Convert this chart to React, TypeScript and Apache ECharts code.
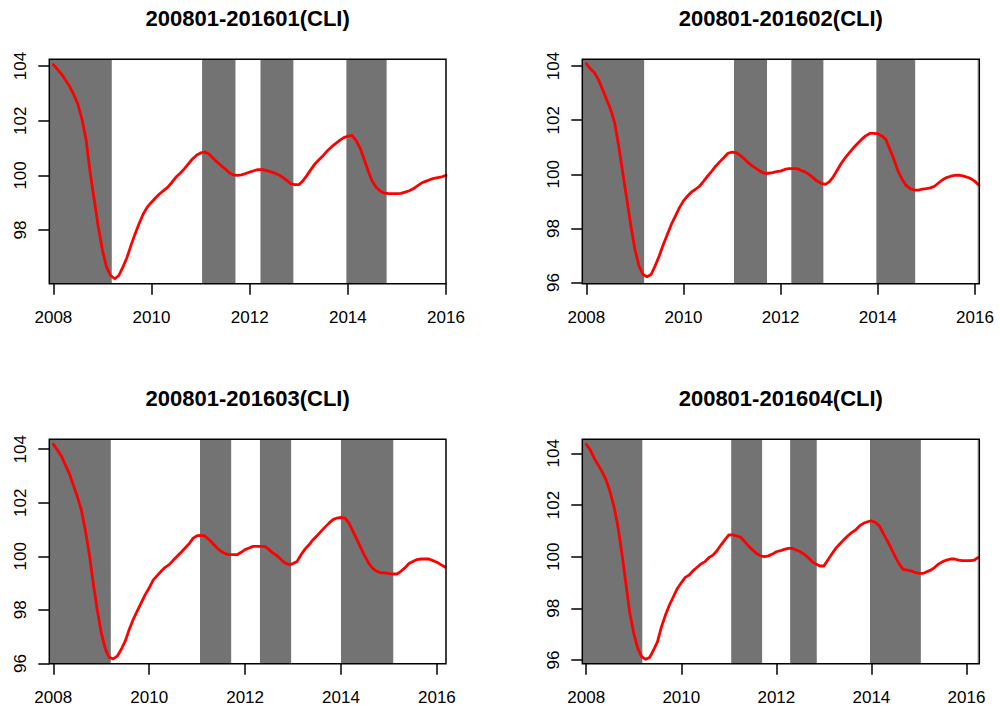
import { useEffect, useRef } from "react";
import * as echarts from "echarts";

// Monthly CLI readings, each run starting January 2008.
const START_YEAR = 2008;

const titles = [
  "200801-201601(CLI)",
  "200801-201602(CLI)",
  "200801-201603(CLI)",
  "200801-201604(CLI)",
];

const cli201601 = [
  104.05, 103.88, 103.7, 103.48, 103.25, 102.95, 102.6, 102.05, 101.3, 100.1, 99.1, 98.1,
  97.26, 96.65, 96.34, 96.22, 96.34, 96.65, 97.0, 97.45, 97.87, 98.25, 98.6, 98.85,
  99.02, 99.18, 99.33, 99.45, 99.57, 99.75, 99.94, 100.08, 100.24, 100.42, 100.6, 100.74,
  100.82, 100.85, 100.79, 100.64, 100.49, 100.36, 100.24, 100.1, 100.02, 100.0, 100.02, 100.07,
  100.12, 100.17, 100.21, 100.21, 100.18, 100.14, 100.09, 100.02, 99.94, 99.83, 99.7, 99.66,
  99.66, 99.8, 100.0, 100.22, 100.43, 100.58, 100.73, 100.9, 101.04, 101.16, 101.28, 101.38,
  101.43, 101.46, 101.28, 101.0, 100.58, 100.15, 99.78, 99.55, 99.42, 99.35, 99.33, 99.33,
  99.33, 99.34, 99.39, 99.44, 99.51, 99.62, 99.72, 99.78, 99.84, 99.89, 99.92, 99.95,
  100.0,
];

const cli201602 = [
  104.09, 103.9, 103.75, 103.5, 103.14, 102.77, 102.4, 101.9, 101.05, 100.06, 99.08, 98.1,
  97.23, 96.62, 96.3, 96.22, 96.3, 96.62, 96.98, 97.4, 97.78, 98.15, 98.46, 98.77,
  99.02, 99.2, 99.35, 99.45, 99.57, 99.75, 99.94, 100.12, 100.31, 100.47, 100.62, 100.78,
  100.82, 100.8, 100.7, 100.58, 100.43, 100.31, 100.21, 100.11, 100.04, 100.04, 100.06, 100.1,
  100.12, 100.18, 100.21, 100.21, 100.21, 100.15, 100.09, 100.0, 99.88, 99.75, 99.67, 99.63,
  99.72, 99.91, 100.16, 100.41, 100.62, 100.8, 100.98, 101.14, 101.29, 101.42, 101.51, 101.51,
  101.5, 101.42, 101.29, 100.92, 100.55, 100.12, 99.82, 99.59, 99.47, 99.42, 99.42, 99.45,
  99.47, 99.5, 99.56, 99.68, 99.8, 99.88, 99.93, 99.96, 99.97, 99.94, 99.9, 99.84,
  99.74, 99.6,
];

const cli201603 = [
  104.19, 103.98, 103.75, 103.42, 103.1, 102.67, 102.24, 101.74, 100.99, 100.1, 99.0, 98.0,
  97.15, 96.55, 96.22, 96.17, 96.27, 96.52, 96.83, 97.27, 97.64, 97.95, 98.26, 98.57,
  98.82, 99.11, 99.28, 99.44, 99.59, 99.69, 99.85, 100.0, 100.15, 100.31, 100.47, 100.68,
  100.77, 100.78, 100.75, 100.62, 100.47, 100.31, 100.19, 100.1, 100.06, 100.06, 100.06, 100.15,
  100.25, 100.31, 100.37, 100.37, 100.37, 100.37, 100.25, 100.12, 100.02, 99.88, 99.75, 99.69,
  99.73, 99.81, 100.06, 100.27, 100.43, 100.62, 100.77, 100.93, 101.09, 101.24, 101.37, 101.43,
  101.45, 101.43, 101.24, 100.93, 100.62, 100.31, 100.0, 99.73, 99.54, 99.44, 99.38, 99.38,
  99.35, 99.34, 99.34, 99.44, 99.57, 99.73, 99.81, 99.88, 99.9, 99.9, 99.9, 99.84,
  99.78, 99.69, 99.6,
];

const cli201604 = [
  104.35, 104.13, 103.81, 103.55, 103.29, 102.97, 102.52, 101.94, 101.16, 100.13, 98.97, 97.81,
  97.03, 96.45, 96.13, 96.03, 96.1, 96.39, 96.71, 97.29, 97.74, 98.13, 98.45, 98.77,
  98.99, 99.2, 99.29, 99.46, 99.59, 99.72, 99.81, 99.97, 100.06, 100.23, 100.45, 100.65,
  100.84, 100.84, 100.8, 100.75, 100.58, 100.41, 100.26, 100.13, 100.03, 100.0, 100.03, 100.1,
  100.19, 100.23, 100.28, 100.32, 100.32, 100.26, 100.19, 100.1, 99.97, 99.81, 99.72, 99.64,
  99.64, 99.87, 100.1, 100.32, 100.49, 100.65, 100.8, 100.93, 101.03, 101.19, 101.29, 101.35,
  101.39, 101.32, 101.19, 100.9, 100.62, 100.32, 100.0, 99.72, 99.51, 99.48, 99.45, 99.39,
  99.35, 99.35, 99.42, 99.48, 99.59, 99.72, 99.81, 99.87, 99.91, 99.91, 99.87, 99.85,
  99.85, 99.85, 99.87, 99.97,
];

// Contraction phases (decimal years) shaded dark grey.
const phases201601 = [[2007.917, 2009.19], [2011.03, 2011.71], [2012.22, 2012.89], [2013.97, 2014.79]];
const phases201602 = [[2007.917, 2009.19], [2011.04, 2011.72], [2012.22, 2012.88], [2013.97, 2014.77]];
const phases201603 = [[2007.917, 2009.2], [2011.06, 2011.71], [2012.31, 2012.96], [2014.0, 2015.09]];
const phases201604 = [[2007.917, 2009.18], [2011.05, 2011.7], [2012.29, 2012.85], [2013.97, 2015.04]];

// Thin light band at the last month of some runs.
const edge201601: number[][] = [];
const edge201602 = [[2016.045, 2016.09]];
const edge201603: number[][] = [];
const edge201604 = [[2016.225, 2016.27]];

const xMin = 2007.917;
const xMaxes = [2016.0, 2016.09, 2016.19, 2016.27];
const yRanges = [
  [96.04, 104.245],
  [95.96, 104.25],
  [95.99, 104.37],
  [95.86, 104.54],
];

const xTickValues = [2008, 2010, 2012, 2014, 2016];
const yTickValues201601 = [98, 100, 102, 104];
const yTickValues = [96, 98, 100, 102, 104];

const seriesValues = [cli201601, cli201602, cli201603, cli201604];
const phaseSets = [phases201601, phases201602, phases201603, phases201604];
const edgeSets = [edge201601, edge201602, edge201603, edge201604];
const yTickSets = [yTickValues201601, yTickValues, yTickValues, yTickValues];

// Plot boxes in pixels.
const boxes = [
  { left: 49.3, top: 59.3, width: 396.7, height: 224.4 },
  { left: 582.3, top: 59.3, width: 397, height: 224.4 },
  { left: 49.3, top: 439.3, width: 396.7, height: 224.4 },
  { left: 582.3, top: 439.3, width: 397, height: 224.4 },
];

const FONT = '"Liberation Sans", Arial, Helvetica, sans-serif';
const SHADE = "#737373";

function buildOption() {
  const grid = boxes.map((b) => ({ ...b, show: false, containLabel: false }));

  const xAxis = boxes.map((_, i) => ({
    type: "value",
    gridIndex: i,
    min: xMin,
    max: xMaxes[i],
    axisLine: { show: false },
    splitLine: { show: false },
    axisTick: {
      show: true,
      length: 11,
      customValues: xTickValues,
      lineStyle: { color: "#000", width: 1.5 },
    },
    axisLabel: {
      customValues: xTickValues,
      margin: 25,
      color: "#000",
      fontSize: 17,
      fontFamily: FONT,
      formatter: (v: number) => String(Math.round(v)),
    },
  }));

  const yAxis = boxes.map((_, i) => ({
    type: "value",
    gridIndex: i,
    min: yRanges[i][0],
    max: yRanges[i][1],
    axisLine: { show: false },
    splitLine: { show: false },
    axisTick: {
      show: true,
      length: 11,
      customValues: yTickSets[i],
      lineStyle: { color: "#000", width: 1.5 },
    },
    axisLabel: {
      customValues: yTickSets[i],
      rotate: 90,
      margin: 20,
      color: "#000",
      fontSize: 17,
      fontFamily: FONT,
      formatter: (v: number) => String(Math.round(v)),
    },
  }));

  const series: any[] = [];
  boxes.forEach((_, i) => {
    series.push({
      type: "line",
      name: "phases" + i,
      xAxisIndex: i,
      yAxisIndex: i,
      data: [],
      z: 1,
      silent: true,
      markArea: {
        silent: true,
        itemStyle: { color: SHADE, borderWidth: 0 },
        data: phaseSets[i].map(([a, b]) => [{ xAxis: a }, { xAxis: b }]),
      },
    });
    if (edgeSets[i].length) {
      series.push({
        type: "line",
        name: "edge" + i,
        xAxisIndex: i,
        yAxisIndex: i,
        data: [],
        z: 1,
        silent: true,
        markArea: {
          silent: true,
          itemStyle: { color: "#cccccc", borderWidth: 0 },
          data: edgeSets[i].map(([a, b]) => [{ xAxis: a }, { xAxis: b }]),
        },
      });
    }
    series.push({
      type: "line",
      name: titles[i],
      xAxisIndex: i,
      yAxisIndex: i,
      data: seriesValues[i].map((v, k) => [START_YEAR + k / 12, v]),
      symbol: "none",
      showSymbol: false,
      smooth: false,
      z: 3,
      lineStyle: { color: "#ff0000", width: 2.8, join: "round", cap: "round" },
      clip: true,
    });
  });

  const graphic: any[] = [];
  boxes.forEach((b, i) => {
    graphic.push({
      type: "rect",
      z: 100,
      silent: true,
      shape: { x: b.left, y: b.top, width: b.width, height: b.height },
      style: { fill: "none", stroke: "#000", lineWidth: 1.5 },
    });
    graphic.push({
      type: "text",
      z: 100,
      silent: true,
      x: b.left + b.width / 2,
      y: b.top - 40.5,
      style: {
        text: titles[i],
        align: "center",
        verticalAlign: "middle",
        fill: "#000",
        font: `bold 22px ${FONT}`,
      },
    });
  });

  return {
    animation: false,
    backgroundColor: "#ffffff",
    grid,
    xAxis,
    yAxis,
    series,
    graphic,
  };
}

export default function App() {
  const ref = useRef<HTMLDivElement>(null);

  useEffect(() => {
    if (!ref.current) return;
    const chart = echarts.init(ref.current, undefined, { renderer: "svg" });
    chart.setOption(buildOption() as any);
    return () => chart.dispose();
  }, []);

  return (
    <div
      ref={ref}
      style={{ position: "absolute", left: 0, top: 0, width: 1000, height: 713, background: "#fff" }}
    />
  );
}
